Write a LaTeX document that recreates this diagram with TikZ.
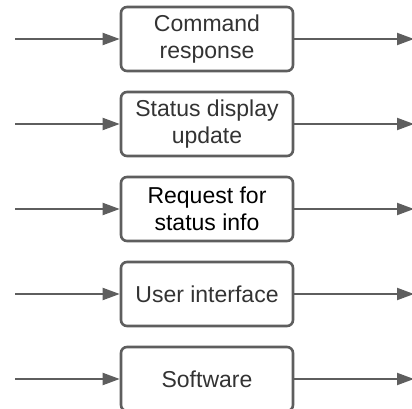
\documentclass[tikz,border=0pt]{standalone}
\usepackage{fontspec}
\setmainfont{Liberation Sans}
\usetikzlibrary{arrows.meta}

\begin{document}
\begin{tikzpicture}[x=1pt,y=-1pt,
    stage/.style={draw=linegray,line width=2.6pt,rounded corners=6pt,fill=white,
      minimum width=172pt,minimum height=64pt,align=center,text=textgray,
      font=\fontsize{23}{27}\selectfont,inner sep=2pt},
    flow/.style={draw=linegray,line width=2pt,-{Triangle[length=17pt,width=12pt]}}]
    \definecolor{linegray}{HTML}{5E5E5E}
    \definecolor{textgray}{HTML}{333333}
    \useasboundingbox (0,0) rectangle (412,409);
    \node[stage] (cmd) at (207,39) {Command\\response};
    \node[stage] (disp) at (207,124) {Status display\\update};
    \node[stage,text=black] (req) at (207,209) {Request for\\status info};
    \node[stage] (ui) at (207,294) {User interface};
    \node[stage] (sw) at (207,379) {Software};
    \draw[flow] (15,39) coordinate (in1) -- (cmd);
    \draw[flow] (cmd) -- (414,39) coordinate (out1);
    \draw[flow] (15,124) coordinate (in2) -- (disp);
    \draw[flow] (disp) -- (414,124) coordinate (out2);
    \draw[flow] (15,209) coordinate (in3) -- (req);
    \draw[flow] (req) -- (414,209) coordinate (out3);
    \draw[flow] (15,294) coordinate (in4) -- (ui);
    \draw[flow] (ui) -- (414,294) coordinate (out4);
    \draw[flow] (15,379) coordinate (in5) -- (sw);
    \draw[flow] (sw) -- (414,379) coordinate (out5);
  \end{tikzpicture}
\end{document}
